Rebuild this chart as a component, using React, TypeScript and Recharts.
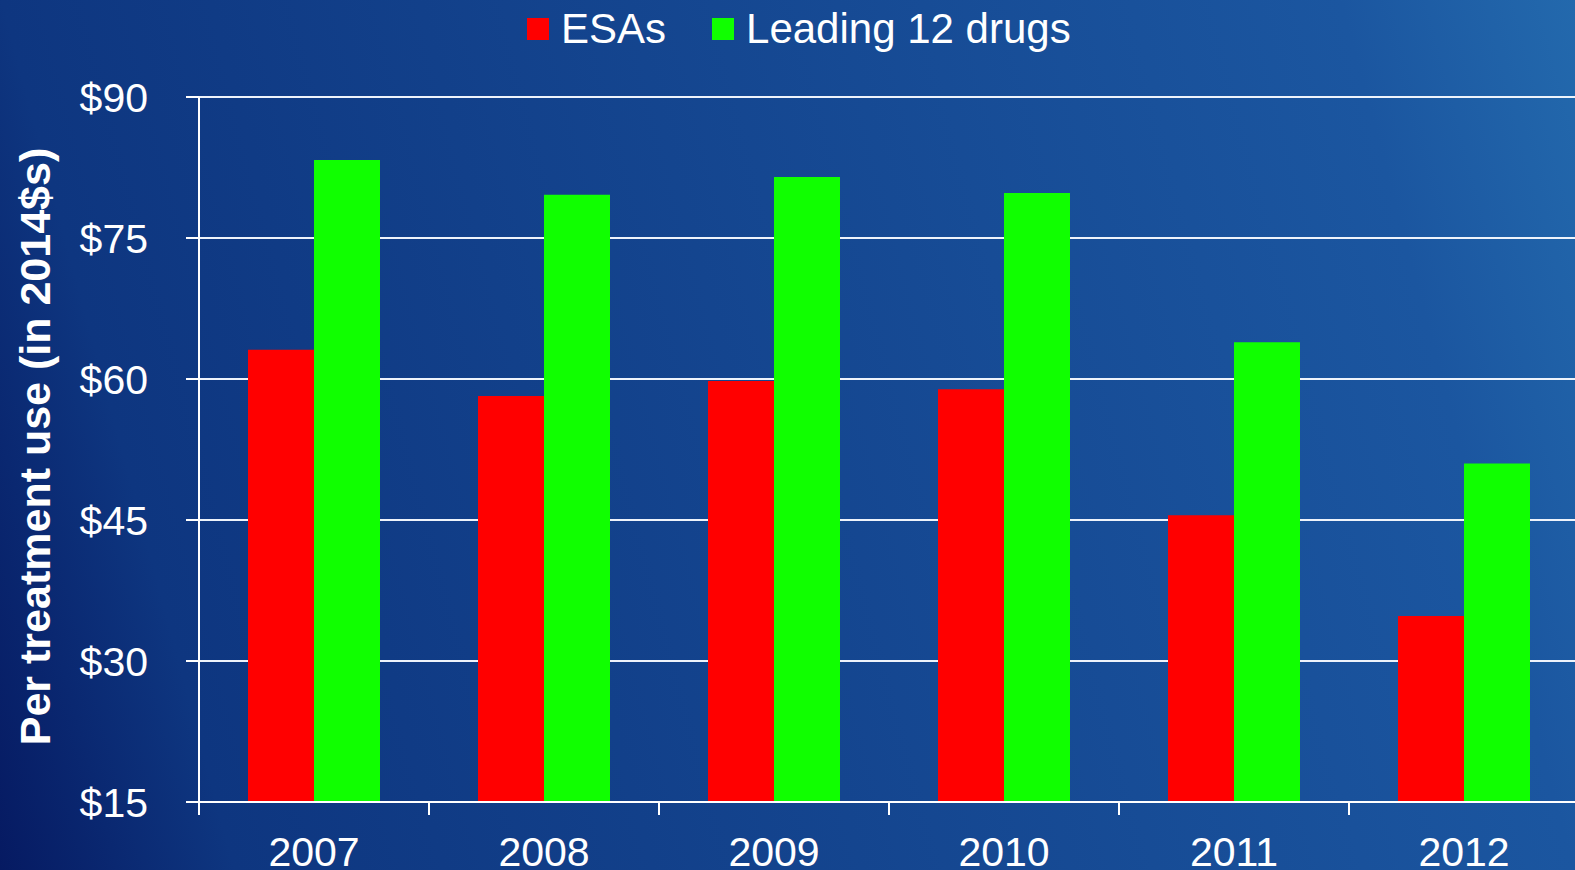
import { BarChart, Bar, XAxis, YAxis, CartesianGrid, Legend, Label } from 'recharts';

const years = ['2007', '2008', '2009', '2010', '2011', '2012'];
const esas = [63.1, 58.2, 59.8, 58.9, 45.5, 34.8];
const leading12 = [83.3, 79.6, 81.5, 79.8, 63.9, 51.0];
const yTicks = [15, 30, 45, 60, 75, 90];

const data = years.map((year, i) => ({ year, esas: esas[i], leading12: leading12[i] }));

const FONT = '"Liberation Sans", Arial, Helvetica, sans-serif';
const RED = '#ff0000';
const GREEN = '#10ff00';

const CHART_W = 1579;
const CHART_H = 870;
const AXIS_W = 199;
const BAND = (CHART_W - AXIS_W) / years.length;

// category labels sit in the middle, the small tick marks sit on the category edges
function YearTick(props: any) {
  const { x, y, payload } = props;
  const left = x - BAND / 2;
  return (
    <g>
      <line x1={left} x2={left} y1={y - 35} y2={y - 22} stroke="#fff" strokeWidth={2} />
      <text x={x} y={y} dy="0.71em" textAnchor="middle" fill="#fff" fontSize={41} fontFamily={FONT}>
        {payload.value}
      </text>
    </g>
  );
}

function YLabel(props: any) {
  const vb = props.viewBox || {};
  const cx = 50;
  const cy = (vb.y ?? 97) + (vb.height ?? 705) / 2 - 3;
  return (
    <text
      x={cx}
      y={cy}
      transform={`rotate(-90, ${cx}, ${cy})`}
      textAnchor="middle"
      fill="#fff"
      fontSize={43}
      fontWeight="bold"
      fontFamily={FONT}
    >
      Per treatment use (in 2014$s)
    </text>
  );
}

function TopLegend() {
  const items = [
    { name: 'ESAs', color: RED },
    { name: 'Leading 12 drugs', color: GREEN },
  ];
  return (
    <div style={{ display: 'flex', alignItems: 'center', height: 58, paddingLeft: 527, boxSizing: 'border-box' }}>
      {items.map((it) => (
        <div key={it.name} style={{ display: 'flex', alignItems: 'center', marginRight: 46 }}>
          <span style={{ width: 22, height: 22, background: it.color, marginRight: 12, display: 'inline-block' }} />
          <span style={{ color: '#fff', fontSize: 42, fontFamily: FONT, lineHeight: '44px' }}>{it.name}</span>
        </div>
      ))}
    </div>
  );
}

export default function App() {
  return (
    <div
      style={{
        position: 'fixed',
        left: 0,
        top: 0,
        width: 1575,
        height: 870,
        overflow: 'hidden',
        background: 'linear-gradient(75deg, #061a62 0%, #0e3680 13%, #1b56a0 87%, #2369ad 100%)',
      }}
    >
      <BarChart
        width={CHART_W}
        height={CHART_H}
        data={data}
        margin={{ top: 39, right: 0, bottom: 0, left: 0 }}
        barGap={0}
        barSize={66}
        style={{ fontFamily: FONT }}
      >
        <Legend verticalAlign="top" align="left" content={() => <TopLegend />} wrapperStyle={{ top: 0, left: 0 }} />
        <CartesianGrid vertical={false} stroke="#eef3fb" strokeWidth={2} />
        <XAxis
          dataKey="year"
          interval={0}
          height={68}
          tickLine={false}
          tickSize={13}
          tickMargin={22}
          axisLine={{ stroke: '#fff', strokeWidth: 2 }}
          tick={<YearTick />}
        />
        <YAxis
          type="number"
          domain={[15, 90]}
          ticks={yTicks}
          width={AXIS_W}
          tickSize={13}
          tickMargin={38}
          axisLine={{ stroke: '#fff', strokeWidth: 2 }}
          tickLine={{ stroke: '#fff', strokeWidth: 2 }}
          tick={{ fill: '#fff', fontSize: 41, fontFamily: FONT }}
          tickFormatter={(v: number) => `$${v}`}
        >
          <Label content={(p: any) => <YLabel {...p} />} />
        </YAxis>
        <Bar dataKey="esas" name="ESAs" fill={RED} isAnimationActive={false} />
        <Bar dataKey="leading12" name="Leading 12 drugs" fill={GREEN} isAnimationActive={false} />
      </BarChart>
    </div>
  );
}
